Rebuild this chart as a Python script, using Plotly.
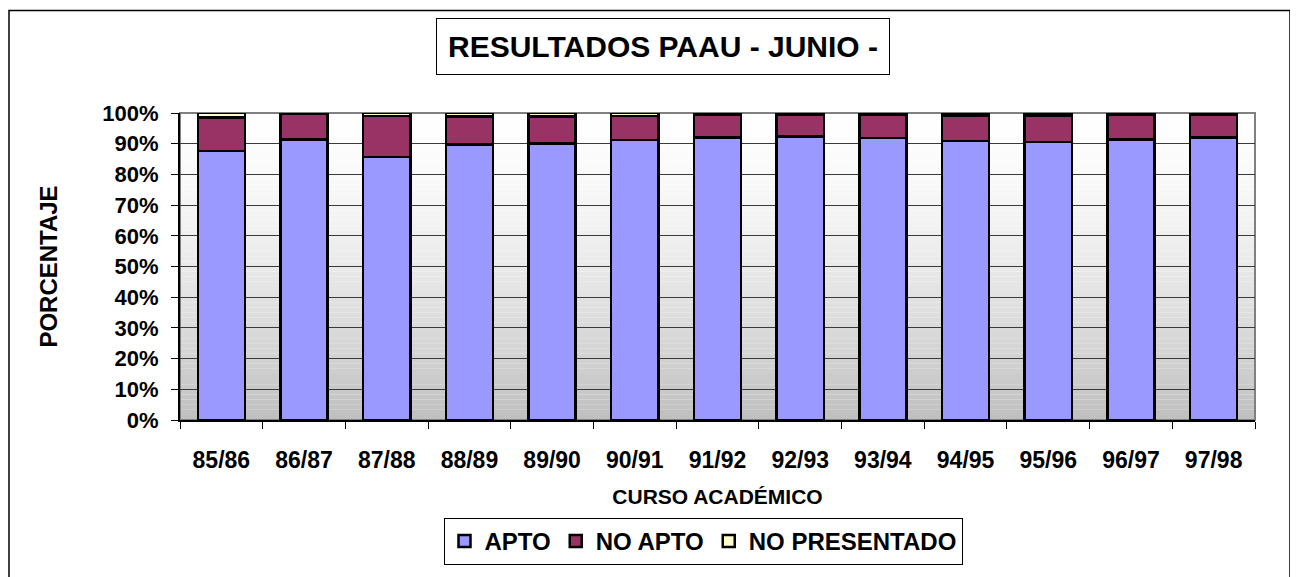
import plotly.graph_objects as go

cursos = ["85/86", "86/87", "87/88", "88/89", "89/90", "90/91", "91/92",
          "92/93", "93/94", "94/95", "95/96", "96/97", "97/98"]
apto = [87.6, 91.4, 85.7, 89.7, 90.0, 91.2, 92.1, 92.4, 91.8, 90.8, 90.5, 91.3, 92.1]
no_apto = [10.9, 8.3, 13.4, 9.2, 8.8, 7.9, 7.3, 7.0, 7.6, 8.4, 8.7, 8.0, 7.3]
no_presentado = [1.5, 0.3, 0.9, 1.1, 1.2, 0.9, 0.6, 0.6, 0.6, 0.8, 0.8, 0.7, 0.6]

# the page body has an 8px margin, so the figure is laid out in page pixels minus that
OFF = 8
PAGE_W, PAGE_H = 1298, 577
L, R, T, B = 180, 1255, 113, 423  # plot area in page pixels


def px_x(p):
    return (p - L) / (R - L)


def px_y(p):
    return (B - p) / (B - T)


font = "Arial, Liberation Sans, sans-serif"

fig = go.Figure()
series = [("APTO", apto, "#9999FF"), ("NO APTO", no_apto, "#993366"),
          ("NO PRESENTADO", no_presentado, "#FFFFCC")]
for name, vals, color in series:
    fig.add_trace(go.Bar(x=cursos, y=vals, name=name, width=0.57,
                         marker=dict(color=color, line=dict(color="black", width=2.5))))

# gradient background of the plot area
shapes = []
n = 60
for i in range(n):
    t = i / n
    g = int(255 - (255 - 192) * (1 - t) ** 1.6)
    shapes.append(dict(type="rect", xref="x domain", yref="y domain", x0=0, x1=1,
                       y0=t, y1=(i + 1) / n, line=dict(width=0),
                       fillcolor=f"rgb({g},{g},{g})", layer="below"))
# plot area border (top/right grey)
shapes.append(dict(type="rect", xref="x domain", yref="y domain", x0=0, x1=1, y0=0, y1=1,
                   line=dict(color="#808080", width=2), layer="below"))
# outer chart border
shapes.append(dict(type="rect", xref="paper", yref="paper", x0=px_x(9), x1=px_x(1290),
                   y0=px_y(600), y1=px_y(9.5), line=dict(color="black", width=1.5)))

fig.update_layout(
    width=PAGE_W - OFF, height=PAGE_H - OFF,
    margin=dict(l=L - OFF, r=PAGE_W - R, t=T - OFF, b=PAGE_H - B),
    barmode="stack", bargap=0.43,
    paper_bgcolor="white", plot_bgcolor="rgba(0,0,0,0)",
    font=dict(family=font, color="black"),
    shapes=shapes,
    showlegend=True,
    legend=dict(orientation="h", x=px_x(703), xanchor="center", y=px_y(545.5), yanchor="middle",
                bordercolor="black", borderwidth=1, bgcolor="white",
                font=dict(size=24, family=font, weight="bold"), itemwidth=30,
                traceorder="normal"),
    annotations=[dict(text="<b>RESULTADOS PAAU - JUNIO -</b>", xref="paper", yref="paper",
                      x=px_x(663), y=px_y(46), xanchor="center", yanchor="middle",
                      showarrow=False, font=dict(size=30, family=font),
                      bordercolor="black", borderwidth=1, borderpad=11, bgcolor="white")],
)

fig.update_yaxes(range=[0, 100], tickvals=list(range(0, 101, 10)),
                 ticktext=[f"{v}%" for v in range(0, 101, 10)],
                 tickfont=dict(size=22, family=font, weight="bold"),
                 ticks="outside", ticklen=7, tickcolor="black", ticklabelstandoff=8,
                 showgrid=True, gridcolor="#3a3a3a", gridwidth=1,
                 showline=True, linecolor="black", linewidth=2, zeroline=False,
                 title=dict(text="<b>PORCENTAJE</b>", font=dict(size=24, family=font), standoff=38))
fig.update_xaxes(tickfont=dict(size=23, family=font, weight="bold"),
                 ticks="outside", ticklen=7, tickcolor="black", tickson="boundaries",
                 ticklabelstandoff=18,
                 showline=True, linecolor="black", linewidth=2, showgrid=False,
                 title=dict(text="<b>CURSO ACADÉMICO</b>", font=dict(size=21, family=font), standoff=18))

fig.write_html("out.html")
